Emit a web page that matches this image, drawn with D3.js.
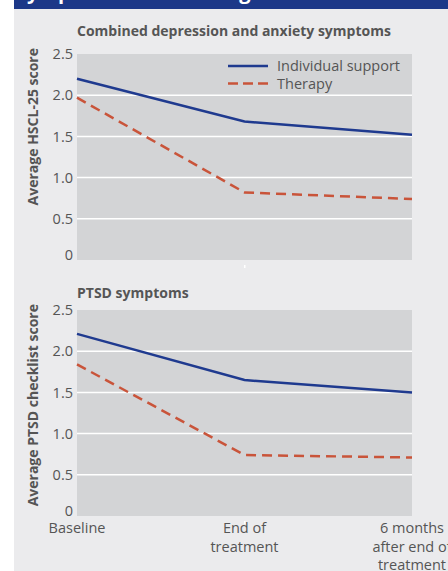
<!DOCTYPE html>
<html><head><meta charset="utf-8">
<script src="https://cdn.jsdelivr.net/npm/d3@7"></script>
<style>
html,body{margin:0;padding:0;background:#fff;}
svg{display:block;}
text{font-family:"Open Sans",sans-serif;}
</style></head>
<body>
<script>
const categories = [["Baseline"], ["End of", "treatment"], ["6 months", "after end of", "treatment"]];
const seriesNames = ["Individual support", "Therapy"];
const hsclIndividual = [2.20, 1.68, 1.52];
const hsclTherapy = [1.97, 0.82, 0.74];
const ptsdIndividual = [2.21, 1.65, 1.50];
const ptsdTherapy = [1.84, 0.74, 0.71];
const yTicks = [0, 0.5, 1.0, 1.5, 2.0, 2.5];
const yTickLabels = ["0", "0.5", "1.0", "1.5", "2.0", "2.5"];

const W = 448, H = 571;
const svg = d3.select("body").append("svg").attr("width", W).attr("height", H);

svg.append("rect").attr("x", 14).attr("y", 0).attr("width", W - 14).attr("height", H).attr("fill", "#ebebed");
svg.append("rect").attr("x", 14).attr("y", 0).attr("width", W - 14).attr("height", 9).attr("fill", "#1c3888");
svg.append("clipPath").attr("id", "hdr").append("rect").attr("x", 14).attr("y", 0).attr("width", W - 14).attr("height", 9);
svg.append("text").attr("x", 16).attr("y", -1).attr("clip-path", "url(#hdr)")
  .attr("fill", "#fff").attr("font-weight", "bold").attr("font-size", 20)
  .text("Symptom scores during the trial");

const blue = "#1f3a8f", red = "#c9543a";
const x = d3.scalePoint().domain(d3.range(categories.length)).range([77, 412]).padding(0);
const FS = 14.5;

function panel(top, title, titleOffset, yTitle, seriesA, seriesB, showLegend, showXLabels) {
  const bottom = top + 206;
  const y = d3.scaleLinear().domain([0, 2.5]).range([bottom, top]);
  const g = svg.append("g");
  g.append("rect").attr("x", 77).attr("y", top).attr("width", 335).attr("height", 206).attr("fill", "#d3d4d6");
  g.selectAll("line.grid").data(yTicks.filter(t => t > 0 && t < 2.5)).enter().append("line")
    .attr("x1", 77).attr("x2", 412).attr("y1", d => y(d)).attr("y2", d => y(d))
    .attr("stroke", "#fff").attr("stroke-width", 1.5);
  const ax = g.append("g").attr("transform", "translate(77,0)")
    .call(d3.axisLeft(y).tickValues(yTicks).tickFormat((d, i) => yTickLabels[i]).tickSize(0).tickPadding(4));
  ax.select(".domain").remove();
  ax.selectAll("text").attr("font-family", "Open Sans").attr("font-size", FS).attr("fill", "#555")
    .attr("dy", d => d === 0 ? "-0.05em" : "0.32em");
  g.append("text").attr("transform", `translate(38,${top - 6}) rotate(-90)`).attr("text-anchor", "end")
    .attr("font-weight", "bold").attr("font-size", 14).attr("fill", "#555").text(yTitle);
  g.append("text").attr("x", 77).attr("y", top - titleOffset).attr("font-weight", "bold").attr("font-size", 14)
    .attr("fill", "#555").text(title);
  g.append("rect").attr("x", x(1) - 0.5).attr("y", bottom + 5).attr("width", 1.5).attr("height", 3).attr("fill", "#fff");
  const line = d3.line().x((d, i) => x(i)).y(d => y(d));
  g.append("path").datum(seriesA).attr("d", line).attr("fill", "none").attr("stroke", blue).attr("stroke-width", 2.5);
  g.append("path").datum(seriesB).attr("d", line).attr("fill", "none").attr("stroke", red).attr("stroke-width", 2.5)
    .attr("stroke-dasharray", "10,6");
  if (showLegend) {
    const lg = g.append("g");
    [[blue, null], [red, "10,5"]].forEach((s, i) => {
      const ly = top + 12 + i * 17.5;
      lg.append("line").attr("x1", 228).attr("x2", 268).attr("y1", ly).attr("y2", ly)
        .attr("stroke", s[0]).attr("stroke-width", 2.5).attr("stroke-dasharray", s[1]);
      lg.append("text").attr("x", 277).attr("y", ly).attr("dy", "0.35em").attr("font-size", FS)
        .attr("fill", "#555").text(seriesNames[i]);
    });
  }
  if (showXLabels) {
    const xl = g.selectAll("text.xl").data(categories).enter().append("text")
      .attr("x", (d, i) => x(i)).attr("y", bottom + 17).attr("text-anchor", "middle")
      .attr("font-size", FS).attr("fill", "#555");
    xl.selectAll("tspan").data(d => d).enter().append("tspan")
      .attr("x", function () { return this.parentNode.getAttribute("x"); })
      .attr("dy", (d, i) => i === 0 ? 0 : 18.5).text(d => d);
  }
}

panel(54, "Combined depression and anxiety symptoms", 18, "Average HSCL-25 score", hsclIndividual, hsclTherapy, true, false);
panel(310, "PTSD symptoms", 12.5, "Average PTSD checklist score", ptsdIndividual, ptsdTherapy, false, true);
</script>
</body></html>
